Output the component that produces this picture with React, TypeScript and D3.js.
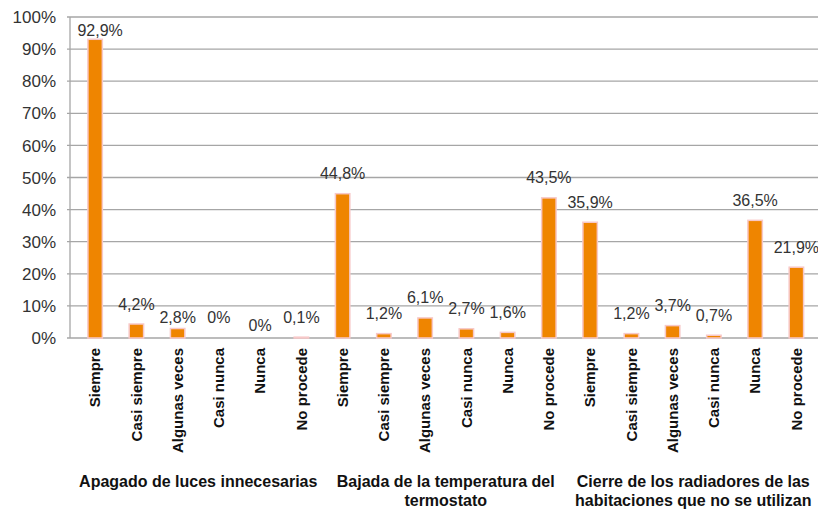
import React from "react";
import * as d3 from "d3";

const categories = ["Siempre", "Casi siempre", "Algunas veces", "Casi nunca", "Nunca", "No procede"];
const groups = [
  ["Apagado de luces innecesarias"],
  ["Bajada de la temperatura del", "termostato"],
  ["Cierre de los radiadores de las", "habitaciones que no se utilizan"],
];
const valuesLuces = [92.9, 4.2, 2.8, 0, 0, 0.1];
const valuesTermostato = [44.8, 1.2, 6.1, 2.7, 1.6, 43.5];
const valuesRadiadores = [35.9, 1.2, 3.7, 0.7, 36.5, 21.9];
const yTicks = [0, 10, 20, 30, 40, 50, 60, 70, 80, 90, 100];

const series = [valuesLuces, valuesTermostato, valuesRadiadores];
const rows = series.flatMap((vals, g) =>
  vals.map((v, i) => ({ key: `${g}-${i}`, group: g, cat: categories[i], value: v }))
);

// layout-only nudges for a few data labels (index -> extra px down)
const labelNudge: Record<number, number> = { 2: 9, 4: 8 };

const W = 818;
const H = 511;
const axisX = 70;
const left = 74.5;
const right = 817;
const top = 17;
const bottom = 338;

const fmt = (v: number) => (v === 0 ? "0%" : d3.format(".1f")(v).replace(".", ",") + "%");

export default function App() {
  const x = d3
    .scaleBand<string>()
    .domain(rows.map((r) => r.key))
    .range([left, right])
    .paddingInner(0.65)
    .paddingOuter(0.325);
  const y = d3.scaleLinear().domain([0, 100]).range([bottom, top]);
  const step = x.step();
  const groupWidth = step * categories.length;

  return (
    <svg
      width={W}
      height={H}
      style={{ position: "absolute", left: 0, top: 0, background: "#fff" }}
      fontFamily="'Liberation Sans', Arial, Helvetica, sans-serif"
    >
      {yTicks.map((t) => (
        <g key={t}>
          <line x1={axisX - 3} x2={W} y1={y(t)} y2={y(t)} stroke="#a6a6a6" strokeWidth={1.3} />
          <text x={56} y={y(t)} dy="0.36em" textAnchor="end" fontSize={17} fill="#333">
            {t}%
          </text>
        </g>
      ))}
      <line x1={axisX} x2={axisX} y1={top} y2={bottom} stroke="#a6a6a6" strokeWidth={1.3} />
      {rows.map((r, i) => {
        const bx = x(r.key)!;
        const bw = x.bandwidth();
        const yTop = y(r.value);
        const cx = bx + bw / 2;
        let ly = yTop - 15;
        if (ly < 36) ly = 36;
        ly += labelNudge[i] || 0;
        return (
          <g key={r.key}>
            {r.value > 0 && (
              <rect
                x={bx}
                y={yTop - 0.5}
                width={bw}
                height={bottom - yTop + 0.5}
                fill="#ef8500"
                stroke="#f7c8c8"
                strokeWidth={1.5}
              />
            )}
            <text x={cx + (i === 0 ? 5 : 0)} y={ly} textAnchor="middle" fontSize={16} fill="#333">
              {fmt(r.value)}
            </text>
            <text
              transform={`translate(${cx},${bottom + 10}) rotate(-90)`}
              textAnchor="end"
              dy="0.35em"
              fontSize={15}
              fontWeight="bold"
              fill="#111"
            >
              {r.cat}
            </text>
          </g>
        );
      })}
      {groups.map((lines, g) => {
        const gx = left + g * groupWidth + groupWidth / 2;
        return (
          <text key={g} x={gx} textAnchor="middle" fontSize={16} fontWeight="bold" fill="#111">
            {lines.map((ln, k) => (
              <tspan key={k} x={gx} y={487 + k * 19}>
                {ln}
              </tspan>
            ))}
          </text>
        );
      })}
    </svg>
  );
}
